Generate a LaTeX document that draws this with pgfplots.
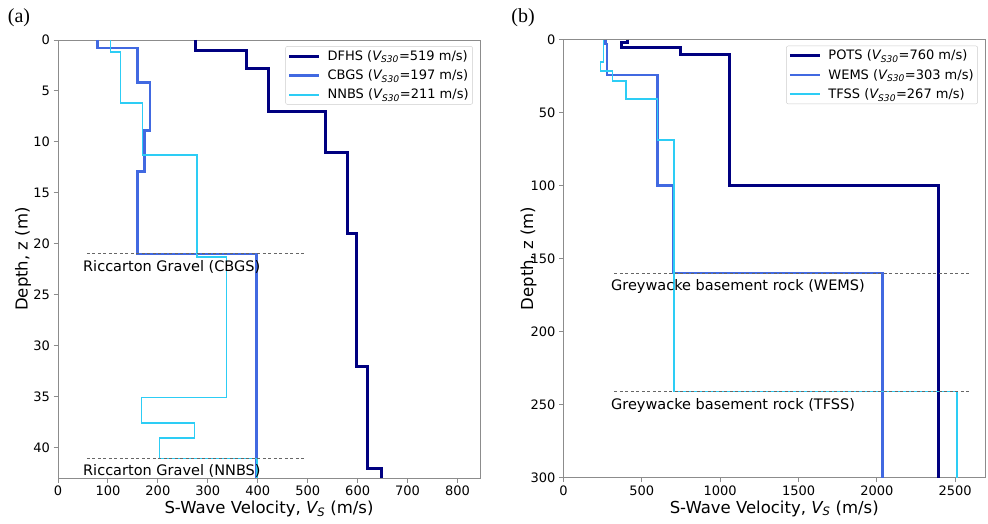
\documentclass[border=0pt]{standalone}
\usepackage{fontspec}
\setmainfont{DejaVu Sans}
\newfontfamily\serifpanel{Liberation Serif}
\usepackage{pgfplots}
\pgfplotsset{compat=1.18}
\definecolor{navyc}{RGB}{0,0,128}
\definecolor{royal}{RGB}{65,105,225}
\definecolor{skyc}{RGB}{45,205,245}
\pgfplotsset{myax/.style={
 scale only axis, y dir=reverse, clip=false,
 axis line style={draw=black!45, line width=0.9pt},
 every tick/.style={draw=black!45, line width=0.9pt},
 tick align=outside, major tick length=4.5pt,
 xtick pos=left, ytick pos=left,
 ticklabel style={font=\fontsize{13}{15}\selectfont},
 /pgf/number format/assume math mode=true,
 /pgf/number format/1000 sep={},
 label style={font=\fontsize{16.5}{19}\selectfont},
 xlabel style={at={(axis description cs:0.5,-0.071)}, anchor=center},
 ylabel style={at={(axis description cs:-0.083,0.5)}, anchor=center},
 xlabel={S-Wave Velocity, {\itshape V}\textsubscript{\itshape S} (m/s)},
 ylabel={Depth, z (m)},
 legend style={draw=black!20, rounded corners=2pt, fill=white, font=\fontsize{13}{15}\selectfont, inner xsep=2pt, inner ysep=2pt, row sep=4pt, anchor=north east, /tikz/every odd column/.append style={column sep=5pt}},
 legend cell align=left,
 legend image code/.code={\draw[#1] (0pt,0pt) -- (30pt,0pt);},
 navyline/.style={draw=navyc, line width=3pt},
 royalline/.style={draw=royal, line width=2.6pt},
 skyline/.style={draw=skyc, line width=1.6pt},
 refline/.style={draw=black!60, line width=0.9pt, dash pattern=on 3pt off 2.5pt},
}}
\begin{document}
\begin{tikzpicture}[x=1pt,y=1pt]
\path[use as bounding box] (0,0) rectangle (988,524);
\node[font=\serifpanel\fontsize{20}{24}\selectfont] at (19,506) {(a)};
\node[font=\serifpanel\fontsize{20}{24}\selectfont] at (523,506) {(b)};
\begin{axis}[myax, at={(58pt,46pt)}, anchor=south west, width=422pt, height=438pt,
 xmin=0, xmax=845, ymin=0, ymax=43, xtick={0,100,...,800}, ytick={0,5,...,40},
 legend style={at={(axis description cs:0.983,0.986)}}]
\addplot[navyline] coordinates {(275,0)(275,1)(378,1)(378,2.8)(422,2.8)(422,7)(535,7)(535,11)(579,11)(579,19)(597,19)(597,32.1)(620,32.1)(620,42.1)(647,42.1)(647,43)};
\addlegendentry{DFHS ({\itshape V}\textsubscript{\itshape S30}=519 m/s)}
\addplot[royalline] coordinates {(79,0)(79,0.8)(159,0.8)(159,4.2)(184,4.2)(184,8.9)(173,8.9)(173,12.9)(159,12.9)(159,21)(398,21)(398,43)};
\addlegendentry{CBGS ({\itshape V}\textsubscript{\itshape S30}=197 m/s)}
\addplot[skyline] coordinates {(105,0)(105,1.2)(125,1.2)(125,6.2)(169,6.2)(169,11.3)(278,11.3)(278,21.3)(337,21.3)(337,35.1)(167,35.1)(167,37.6)(273,37.6)(273,39.1)(203,39.1)(203,41.1)(398,41.1)(398,43)};
\addlegendentry{NNBS ({\itshape V}\textsubscript{\itshape S30}=211 m/s)}
\addplot[refline, forget plot] coordinates {(58,21)(495,21)};
\addplot[refline, forget plot] coordinates {(58,41.1)(495,41.1)};
\node[anchor=west, font=\fontsize{14.5}{17}\selectfont, inner sep=0pt] at (axis cs:50,22.3) {Riccarton Gravel (CBGS)};
\node[anchor=west, font=\fontsize{14.5}{17}\selectfont, inner sep=0pt] at (axis cs:50,42.3) {Riccarton Gravel (NNBS)};
\end{axis}
\begin{axis}[myax, at={(563.5pt,46.5pt)}, anchor=south west, width=421.5pt, height=438pt,
 xmin=0, xmax=2690, ymin=0, ymax=300, xtick={0,500,...,2500}, ytick={0,50,...,300},
 legend style={at={(axis description cs:0.983,0.986)}}]
\addplot[navyline] coordinates {(410,0)(410,2.3)(367,2.3)(367,5.5)(748,5.5)(748,10)(1062,10)(1062,100)(2396,100)(2396,300)};
\addlegendentry{POTS ({\itshape V}\textsubscript{\itshape S30}=760 m/s)}
\addplot[royalline] coordinates {(269,0)(269,3)(278,3)(278,24.4)(601,24.4)(601,100)(700,100)(700,160)(2035,160)(2035,300)};
\addlegendentry{WEMS ({\itshape V}\textsubscript{\itshape S30}=303 m/s)}
\addplot[skyline] coordinates {(254,0)(254,15.3)(237,15.3)(237,21.5)(312,21.5)(312,28.6)(397,28.6)(397,40.9)(601,40.9)(601,69)(705,69)(705,241)(2513,241)(2513,300)};
\addlegendentry{TFSS ({\itshape V}\textsubscript{\itshape S30}=267 m/s)}
\addplot[refline, forget plot] coordinates {(324,160)(2590,160)};
\addplot[refline, forget plot] coordinates {(324,241)(2590,241)};
\node[anchor=west, font=\fontsize{14.5}{17}\selectfont, inner sep=0pt] at (axis cs:303,169.5) {Greywacke basement rock (WEMS)};
\node[anchor=west, font=\fontsize{14.5}{17}\selectfont, inner sep=0pt] at (axis cs:303,250.5) {Greywacke basement rock (TFSS)};
\end{axis}
\end{tikzpicture}
\end{document}
